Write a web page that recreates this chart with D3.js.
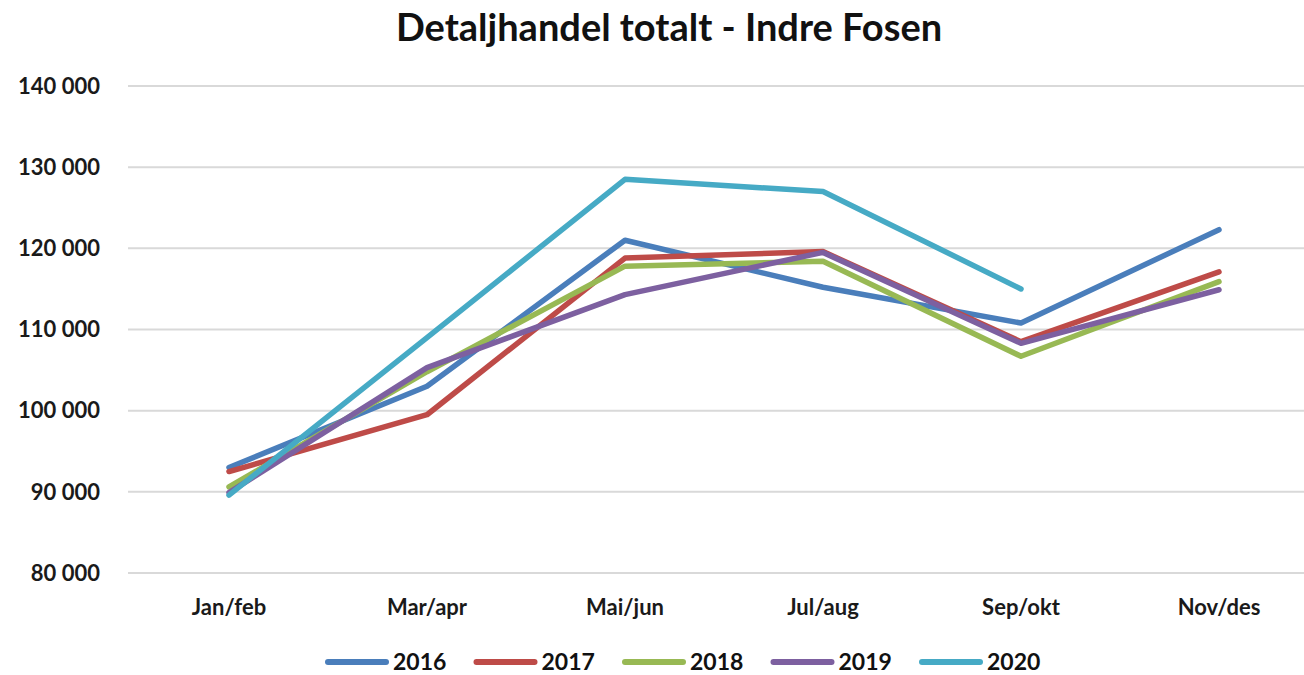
<!DOCTYPE html>
<html lang="no">
<head>
  <meta charset="UTF-8">
  <title>Detaljhandel totalt - Indre Fosen</title>
  <script src="https://d3js.org/d3.v7.min.js"></script>
  <style>
    body, html {
      margin: 0;
      padding: 0;
      background: #fff;
      overflow: hidden;
    }
    svg {
      display: block;
      font-family: Lato, "Open Sans", sans-serif;
    }
    .grid line {
      stroke: #d9d9d9;
      stroke-width: 2px;
    }
    .tick-label {
      font-size: 22px;
      font-weight: bold;
      fill: #1a1a1a;
    }
  </style>
</head>
<body>
  <svg width="1304" height="675"></svg>
  <script>
    // Data
    const periods = ['Jan/feb', 'Mar/apr', 'Mai/jun', 'Jul/aug', 'Sep/okt', 'Nov/des'];
    const years = ['2016', '2017', '2018', '2019', '2020'];
    const yTicks = [80000, 90000, 100000, 110000, 120000, 130000, 140000];

    const values2016 = [93000, 103000, 121000, 115200, 110800, 122300];
    const values2017 = [92500, 99500, 118800, 119600, 108500, 117100];
    const values2018 = [90600, 104800, 117800, 118400, 106700, 115900];
    const values2019 = [89900, 105300, 114300, 119500, 108300, 114900];
    const values2020 = [89600, 109000, 128500, 127000, 115000, null];

    const colors = ['#4a7ebb', '#be4b48', '#98b954', '#7d60a0', '#46aac5'];

    const series = [values2016, values2017, values2018, values2019, values2020]
      .map((vals, i) => ({ year: years[i], color: colors[i], values: vals }));

    const svg = d3.select('svg');

    const x = d3.scaleBand()
      .domain(periods)
      .range([130, 1318])
      .padding(0);

    const y = d3.scaleLinear()
      .domain([80000, 140000])
      .range([573, 86]);

    const fmt = (d) => d3.format(',')(d).replace(/,/g, ' ');

    // Title
    svg.append('text')
      .attr('x', 669)
      .attr('y', 41)
      .attr('text-anchor', 'middle')
      .style('font-size', '38px')
      .style('font-weight', 'bold')
      .style('fill', '#111')
      .text('Detaljhandel totalt - Indre Fosen');

    // Gridlines
    svg.append('g')
      .attr('class', 'grid')
      .selectAll('line')
      .data(yTicks)
      .join('line')
      .attr('x1', 128)
      .attr('x2', 1304)
      .attr('y1', (d) => y(d))
      .attr('y2', (d) => y(d));

    // Y axis labels
    svg.append('g')
      .selectAll('text')
      .data(yTicks)
      .join('text')
      .attr('class', 'tick-label')
      .attr('x', 100)
      .attr('y', (d) => y(d))
      .attr('dy', '0.35em')
      .attr('text-anchor', 'end')
      .text(fmt);

    // X axis labels
    svg.append('g')
      .selectAll('text')
      .data(periods)
      .join('text')
      .attr('class', 'tick-label')
      .attr('x', (d) => x(d) + x.bandwidth() / 2)
      .attr('y', 615)
      .attr('text-anchor', 'middle')
      .text((d) => d);

    // Lines
    const line = d3.line()
      .defined((d) => d != null)
      .x((d, i) => x(periods[i]) + x.bandwidth() / 2)
      .y((d) => y(d));

    svg.append('g')
      .selectAll('path')
      .data(series)
      .join('path')
      .attr('fill', 'none')
      .attr('stroke', (d) => d.color)
      .attr('stroke-width', 5.5)
      .attr('stroke-linejoin', 'round')
      .attr('stroke-linecap', 'round')
      .attr('d', (d) => line(d.values));

    // Legend
    const legend = svg.append('g')
      .selectAll('g')
      .data(series)
      .join('g')
      .attr('transform', (d, i) => `translate(${328 + i * 148.5}, 662)`);

    legend.append('line')
      .attr('x1', 0)
      .attr('x2', 58)
      .attr('stroke', (d) => d.color)
      .attr('stroke-width', 6)
      .attr('stroke-linecap', 'round');

    legend.append('text')
      .attr('x', 65)
      .attr('dy', '0.35em')
      .style('font-size', '23px')
      .style('font-weight', 'bold')
      .style('fill', '#111')
      .text((d) => d.year);
  </script>
</body>
</html>
